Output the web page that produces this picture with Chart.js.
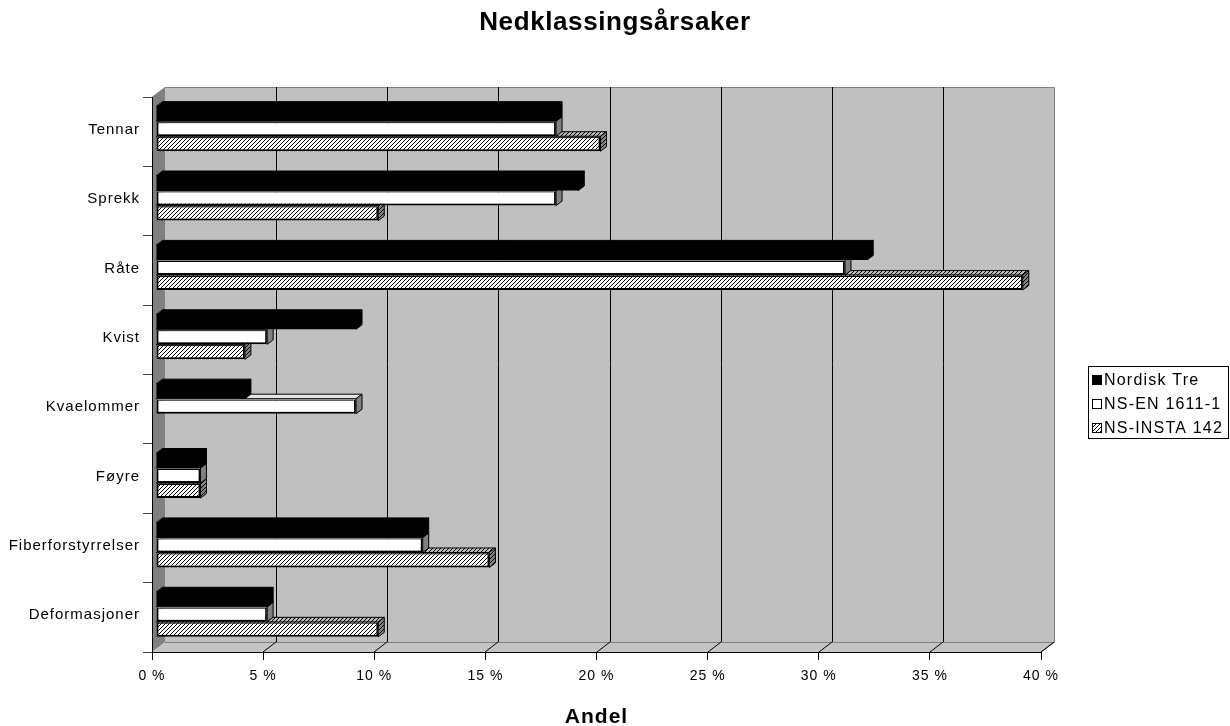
<!DOCTYPE html>
<html>
<head>
<meta charset="utf-8">
<style>
  html, body { margin: 0; padding: 0; background: #ffffff; }
  #wrap { width: 1230px; height: 726px; }
</style>
<script src="https://cdn.jsdelivr.net/npm/chart.js@4.4.1/dist/chart.umd.min.js"></script>
</head>
<body>
<div id="wrap"><canvas id="c" width="1230" height="726"></canvas></div>
<script>
// Categories, top to bottom
const categories = ['Tennar', 'Sprekk', 'Råte', 'Kvist', 'Kvaelommer', 'Føyre', 'Fiberforstyrrelser', 'Deformasjoner'];
// Share of downgrades (percent) per series
const nordiskTre = [18, 19, 32, 9, 4, 2, 12, 5];
const nsEn16111 = [18, 18, 31, 5, 9, 2, 12, 5];
const nsInsta142 = [20, 10, 39, 4, 0, 2, 15, 10];
const seriesNames = ['Nordisk Tre', 'NS-EN 1611-1', 'NS-INSTA 142'];
const xTickValues = [0, 5, 10, 15, 20, 25, 30, 35, 40];
const chartTitle = 'Nedklassingsårsaker';
const axisTitle = 'Andel';

const FONT = '"Liberation Sans", Arial, sans-serif';
const BOX_DX = 13, BOX_DY = 10;     // depth of the 3D box
const BAR_OX = 4, BAR_OY = 3;       // bars sit a little way into the box
const BAR_DX = 6, BAR_DY = 4.5;     // depth of each bar

const canvas = document.getElementById('c');
const ctx = canvas.getContext('2d');

function hatch(bg, line) {
  const t = document.createElement('canvas');
  t.width = 4; t.height = 4;
  const g = t.getContext('2d');
  g.fillStyle = bg; g.fillRect(0, 0, 4, 4);
  g.fillStyle = line;
  for (let i = 0; i < 4; i++) g.fillRect(i, 3 - i, 1, 1);
  return ctx.createPattern(t, 'repeat');
}

const hatchFront = hatch('#ffffff', '#000000');
const hatchTop = hatch('#b8b8b8', '#000000');
const hatchSide = hatch('#808080', '#000000');

// face colours per series: [front, top, side]
const faces = [
  ['#000000', '#000000', '#000000'],
  ['#ffffff', '#e4e4e4', '#808080'],
  [hatchFront, hatchTop, hatchSide]
];
const frontBorder = [0, 2, 2];

const box3d = {
  id: 'box3d',
  beforeDraw(chart) {
    const c = chart.ctx;
    const a = chart.chartArea;
    const xs = chart.scales.x;
    const L = a.left, R = a.right, T = a.top, B = a.bottom;
    c.save();
    // back wall
    c.fillStyle = '#c0c0c0';
    c.fillRect(L + BOX_DX, T - BOX_DY, R - L, B - T);
    // floor
    c.beginPath();
    c.moveTo(L, B); c.lineTo(R, B); c.lineTo(R + BOX_DX, B - BOX_DY); c.lineTo(L + BOX_DX, B - BOX_DY);
    c.closePath();
    c.fillStyle = '#c4c4c4'; c.fill();
    // side wall
    c.beginPath();
    c.moveTo(L, T); c.lineTo(L + BOX_DX, T - BOX_DY); c.lineTo(L + BOX_DX, B - BOX_DY); c.lineTo(L, B);
    c.closePath();
    c.fillStyle = '#808080'; c.fill();
    // wall outline
    c.strokeStyle = '#808080'; c.lineWidth = 1;
    c.beginPath();
    c.moveTo(L + 0.5, T); c.lineTo(L + BOX_DX + 0.5, T - BOX_DY + 0.5);
    c.lineTo(R + BOX_DX + 0.5, T - BOX_DY + 0.5); c.lineTo(R + BOX_DX + 0.5, B - BOX_DY + 0.5);
    c.lineTo(R, B);
    c.moveTo(L + BOX_DX, B - BOX_DY + 0.5); c.lineTo(R + BOX_DX, B - BOX_DY + 0.5);
    c.stroke();
    // gridlines on the back wall and across the floor
    c.strokeStyle = '#000000';
    xs.ticks.forEach(t => {
      const px = Math.round(xs.getPixelForValue(t.value));
      if (t.value === xs.min) return;
      c.beginPath();
      if (t.value !== xs.max) {
        c.moveTo(px + BOX_DX + 0.5, T - BOX_DY);
        c.lineTo(px + BOX_DX + 0.5, B - BOX_DY);
      }
      c.moveTo(px + BOX_DX, B - BOX_DY);
      c.lineTo(px, B);
      c.stroke();
    });
    c.restore();
    // axis labels are drawn slightly spaced out
    c.letterSpacing = '1px';
  },
  beforeDatasetsDraw(chart) {
    chart.ctx.save();
    chart.ctx.translate(BAR_OX, -BAR_OY);
  },
  afterDatasetDraw(chart, args) {
    const c = chart.ctx;
    const idx = args.index;
    const meta = args.meta;
    const f = faces[idx];
    c.save();
    c.lineWidth = 1;
    c.strokeStyle = '#000000';
    meta.data.forEach((bar, i) => {
      const v = chart.data.datasets[idx].data[i];
      if (!v) return;
      const p = bar.getProps(['x', 'y', 'base', 'height'], true);
      const x0 = Math.min(p.base, p.x), x1 = Math.max(p.base, p.x);
      const yT = p.y - p.height / 2, yB = p.y + p.height / 2;
      // top face (overlaps the front edge a little so no seam shows)
      c.beginPath();
      c.moveTo(x0, yT + 1); c.lineTo(x0 + BAR_DX, yT - BAR_DY);
      c.lineTo(x1 + BAR_DX, yT - BAR_DY); c.lineTo(x1, yT + 1);
      c.closePath();
      c.fillStyle = f[1]; c.fill();
      c.beginPath();
      c.moveTo(x0, yT); c.lineTo(x0 + BAR_DX, yT - BAR_DY);
      c.lineTo(x1 + BAR_DX, yT - BAR_DY); c.lineTo(x1, yT);
      c.closePath();
      c.stroke();
      // end face
      c.beginPath();
      c.moveTo(x1 - 0.5, yT); c.lineTo(x1 + BAR_DX, yT - BAR_DY);
      c.lineTo(x1 + BAR_DX, yB - BAR_DY); c.lineTo(x1 - 0.5, yB);
      c.closePath();
      c.fillStyle = f[2]; c.fill();
      c.beginPath();
      c.moveTo(x1, yT); c.lineTo(x1 + BAR_DX, yT - BAR_DY);
      c.lineTo(x1 + BAR_DX, yB - BAR_DY); c.lineTo(x1, yB);
      c.closePath();
      c.stroke();
    });
    c.restore();
  },
  afterDatasetsDraw(chart) {
    chart.ctx.restore();
  },
  afterDraw(chart) {
    const c = chart.ctx;
    c.save();
    // chart title
    c.fillStyle = '#000000';
    c.font = 'bold 26px ' + FONT;
    c.letterSpacing = '0.6px';
    c.textAlign = 'center';
    c.textBaseline = 'middle';
    c.fillText(chartTitle, 615, 23);
    // legend box
    c.letterSpacing = '1.2px';
    c.fillStyle = '#ffffff';
    c.fillRect(1088, 366, 140, 72);
    c.strokeStyle = '#000000'; c.lineWidth = 1;
    c.strokeRect(1088.5, 366.5, 140, 72);
    c.font = '16px ' + FONT;
    c.textAlign = 'left';
    chart.data.datasets.forEach((ds, i) => {
      const cy = 380 + i * 24;
      c.fillStyle = faces[i][0];
      c.fillRect(1092, cy - 5, 10, 10);
      c.strokeRect(1092.5, cy - 4.5, 9, 9);
      c.fillStyle = '#000000';
      c.fillText(ds.label, 1104, cy + 1);
    });
    c.restore();
  }
};

const seriesData = [nordiskTre, nsEn16111, nsInsta142];

new Chart(ctx, {
  type: 'bar',
  data: {
    labels: categories,
    datasets: seriesData.map((d, i) => ({
      label: seriesNames[i],
      data: d,
      backgroundColor: faces[i][0],
      borderColor: '#000000',
      borderWidth: frontBorder[i],
      borderSkipped: false,
      categoryPercentage: 0.65,
      barPercentage: 1.0,
      clip: false
    }))
  },
  options: {
    indexAxis: 'y',
    responsive: false,
    animation: false,
    devicePixelRatio: 1,
    layout: { padding: { left: 0, right: 189, top: 97, bottom: 0 } },
    plugins: {
      legend: { display: false },
      tooltip: { enabled: false },
      title: { display: false }
    },
    scales: {
      x: {
        type: 'linear',
        min: 0,
        max: 40,
        afterBuildTicks(scale) { scale.ticks = xTickValues.map(v => ({ value: v })); },
        afterFit(scale) { scale.height = 74; },
        ticks: {
          color: '#000000',
          font: { family: FONT, size: 14 },
          padding: 8,
          maxRotation: 0,
          callback: v => v + ' %'
        },
        grid: { drawOnChartArea: false, drawTicks: true, tickLength: 8, color: '#000000' },
        border: { display: true, color: '#000000', width: 1 },
        title: {
          display: true,
          text: axisTitle,
          color: '#000000',
          font: { family: FONT, size: 21, weight: 'bold' },
          padding: { top: 0, bottom: -4 }
        }
      },
      y: {
        type: 'category',
        offset: true,
        afterFit(scale) { scale.width = 152; },
        ticks: {
          color: '#000000',
          font: { family: FONT, size: 15 },
          padding: 3,
          labelOffset: -2
        },
        grid: { offset: true, drawOnChartArea: false, drawTicks: true, tickLength: 9, color: '#404040' },
        border: { display: true, color: '#000000', width: 1 }
      }
    }
  },
  plugins: [box3d]
});
</script>
</body>
</html>
